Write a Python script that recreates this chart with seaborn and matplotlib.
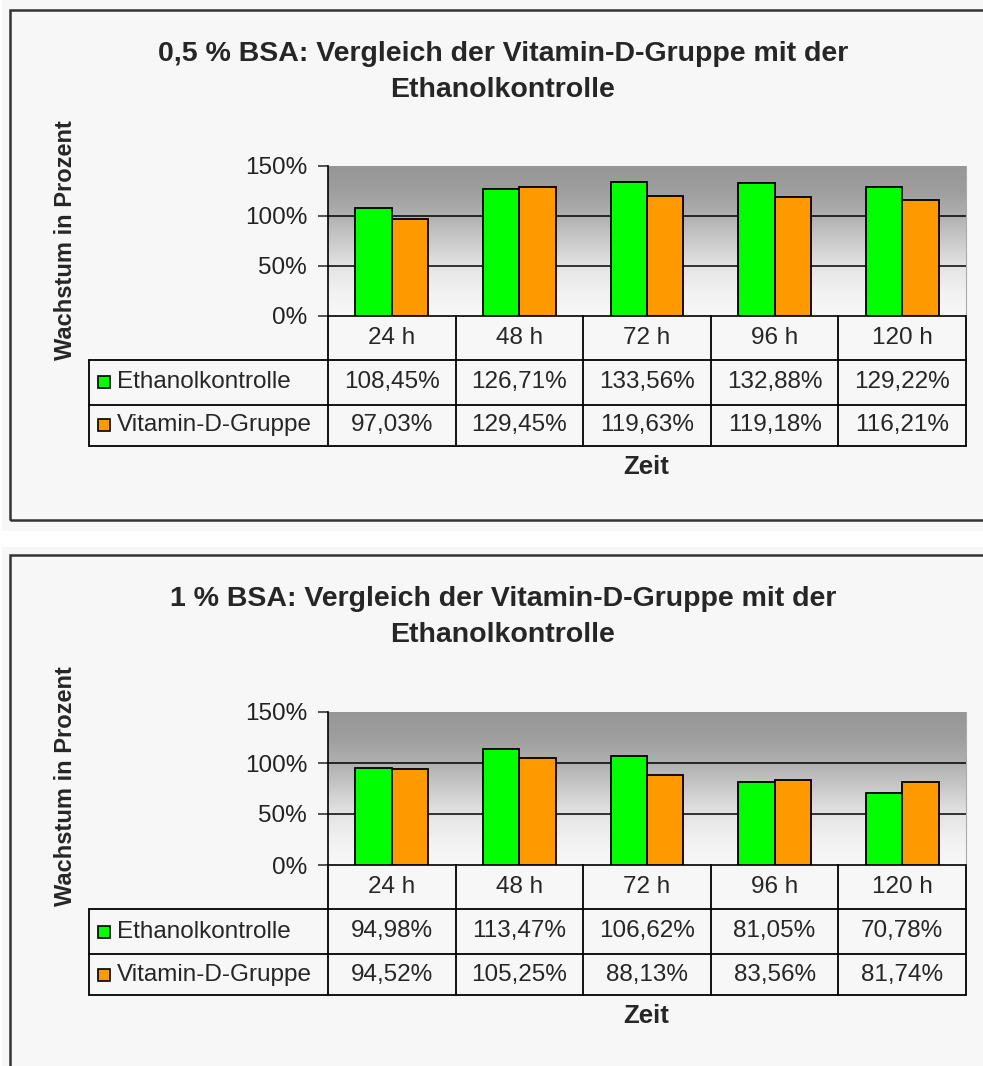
import numpy as np
import pandas as pd
import matplotlib
matplotlib.use("Agg")
import matplotlib.pyplot as plt
import seaborn as sns
from matplotlib.colors import LinearSegmentedColormap
from matplotlib.transforms import blended_transform_factory
from matplotlib.patches import Rectangle

# ---- Daten ----
zeiten = ["24 h", "48 h", "72 h", "96 h", "120 h"]
gruppen = ["Ethanolkontrolle", "Vitamin-D-Gruppe"]
farben = ["#00ff00", "#ff9900"]

bsa05_ethanol = [108.45, 126.71, 133.56, 132.88, 129.22]
bsa05_vitd = [97.03, 129.45, 119.63, 119.18, 116.21]
bsa1_ethanol = [94.98, 113.47, 106.62, 81.05, 70.78]
bsa1_vitd = [94.52, 105.25, 88.13, 83.56, 81.74]

titel_05 = "0,5 % BSA: Vergleich der Vitamin-D-Gruppe mit der\nEthanolkontrolle"
titel_1 = "1 % BSA: Vergleich der Vitamin-D-Gruppe mit der\nEthanolkontrolle"
ytick_werte = [0, 50, 100, 150]
ytick_texte = ["0%", "50%", "100%", "150%"]

sns.set_style("white")
plt.rcParams["font.family"] = ["Liberation Sans", "DejaVu Sans"]

W, H = 983, 1066
fig = plt.figure(figsize=(W / 100, H / 100), dpi=100)
fig.patch.set_facecolor("white")


def fx(x):
    return x / W


def fy(y):
    return 1 - y / H


def prozent(v):
    return f"{v:.2f}".replace(".", ",") + "%"


# Grauverlauf wie im Excel-Diagramm (unten hell, oben dunkel)
grau_cmap = LinearSegmentedColormap.from_list(
    "grau", [(0.0, "#f8f8f8"), (0.15, "#f2f2f2"), (0.33, "#e4e4e4"), (0.5, "#cacaca"),
             (0.67, "#b0b0b0"), (0.83, "#9e9e9e"), (1.0, "#979797")])

TXT = 17.5


def panel(y_oben, y_unten, rahmen_oben, rahmen_unten, ax_oben, ax_unten, ethanol, vitd, titel):
    # Hintergrund und Rahmen des Diagrammbereichs
    fig.patches.append(Rectangle((fx(2), fy(y_unten)), fx(W), (y_unten - y_oben) / H,
                                 transform=fig.transFigure, facecolor="#f7f7f7",
                                 edgecolor="none", zorder=-2))
    fig.patches.append(Rectangle((fx(10), fy(rahmen_unten)), (W + 30) / W,
                                 (rahmen_unten - rahmen_oben) / H,
                                 transform=fig.transFigure, facecolor="none",
                                 edgecolor="#333333", linewidth=1.8, zorder=-1))

    ax = fig.add_axes([fx(328), fy(ax_unten), (966 - 328) / W, (ax_unten - ax_oben) / H])
    df = pd.DataFrame({
        "Zeit": zeiten * 2,
        "Wert": ethanol + vitd,
        "Gruppe": [gruppen[0]] * len(zeiten) + [gruppen[1]] * len(zeiten),
    })
    sns.barplot(data=df, x="Zeit", y="Wert", hue="Gruppe", order=zeiten,
                hue_order=gruppen, palette=farben, saturation=1, width=0.57,
                edgecolor="black", linewidth=1.3, legend=False, ax=ax, zorder=3)

    ax.set_xlim(-0.5, len(zeiten) - 0.5)
    ax.set_ylim(0, 150)
    # Verlauf im Hintergrund
    verlauf = np.linspace(0, 1, 256).reshape(-1, 1)
    ax.imshow(verlauf, cmap=grau_cmap, origin="lower", aspect="auto",
              extent=[-0.5, len(zeiten) - 0.5, 0, 150], zorder=0)
    for g in [50, 100]:
        ax.axhline(g, color="black", linewidth=1.1, zorder=1)

    ax.set_yticks(ytick_werte)
    ax.set_yticklabels(ytick_texte, fontsize=TXT, color="#222222")
    ax.tick_params(axis="y", direction="out", length=7, width=1.1, pad=8, left=True)
    ax.set_xticks([])
    ax.set_xlabel("")
    ax.set_ylabel("")
    ax.spines["top"].set_visible(False)
    ax.spines["right"].set_color("#aaaaaa")
    ax.spines["left"].set_color("black")
    ax.spines["bottom"].set_color("black")
    ax.spines["left"].set_linewidth(1.2)
    ax.spines["bottom"].set_linewidth(1.2)

    # Datentabelle unter dem Diagramm
    trans = blended_transform_factory(ax.transData, ax.transAxes)
    hoehe = ax_unten - ax_oben
    y1 = -44 / hoehe
    y2 = -89 / hoehe
    y3 = -130 / hoehe
    x_links = -0.5 - (328 - 89) / 127.6
    x_rechts = len(zeiten) - 0.5
    lk = dict(color="black", linewidth=1.3, transform=trans, clip_on=False)
    for i in range(len(zeiten) + 1):
        ax.plot([i - 0.5, i - 0.5], [0, y3], **lk)
    ax.plot([x_links, x_links], [y1, y3], **lk)
    for yy in [y1, y2, y3]:
        ax.plot([x_links, x_rechts], [yy, yy], **lk)

    for i, z in enumerate(zeiten):
        ax.text(i, y1 / 2, z, transform=trans, ha="center", va="center", fontsize=TXT)
        ax.text(i, (y1 + y2) / 2, prozent(ethanol[i]), transform=trans,
                ha="center", va="center", fontsize=TXT)
        ax.text(i, (y2 + y3) / 2, prozent(vitd[i]), transform=trans,
                ha="center", va="center", fontsize=TXT)

    x_quadrat = -0.5 - (328 - 104) / 127.6
    x_text = -0.5 - (328 - 117) / 127.6
    for j, (g, f) in enumerate(zip(gruppen, farben)):
        ym = [(y1 + y2) / 2, (y2 + y3) / 2][j]
        ax.plot([x_quadrat], [ym], marker="s", markersize=9, markerfacecolor=f,
                markeredgecolor="black", markeredgewidth=1.2, transform=trans,
                clip_on=False, linestyle="none")
        ax.text(x_text, ym, g, transform=trans, ha="left", va="center", fontsize=TXT)

    # Titel und Achsenbeschriftungen
    fig.text(fx(503), fy(rahmen_oben + 62), titel, ha="center", va="center",
             fontsize=20.5, fontweight="bold", linespacing=1.5)
    fig.text(fx(65), fy(ax_oben + 74), "Wachstum in Prozent", rotation=90,
             ha="center", va="center", fontsize=17, fontweight="bold")
    fig.text(fx(646), fy(ax_unten + 151), "Zeit", ha="center", va="center",
             fontsize=18.5, fontweight="bold")


panel(0, 531, 10, 520, 166, 316, bsa05_ethanol, bsa05_vitd, titel_05)
panel(547, 1066, 555, 1090, 712, 865, bsa1_ethanol, bsa1_vitd, titel_1)

plt.savefig("out.png", dpi=100)
